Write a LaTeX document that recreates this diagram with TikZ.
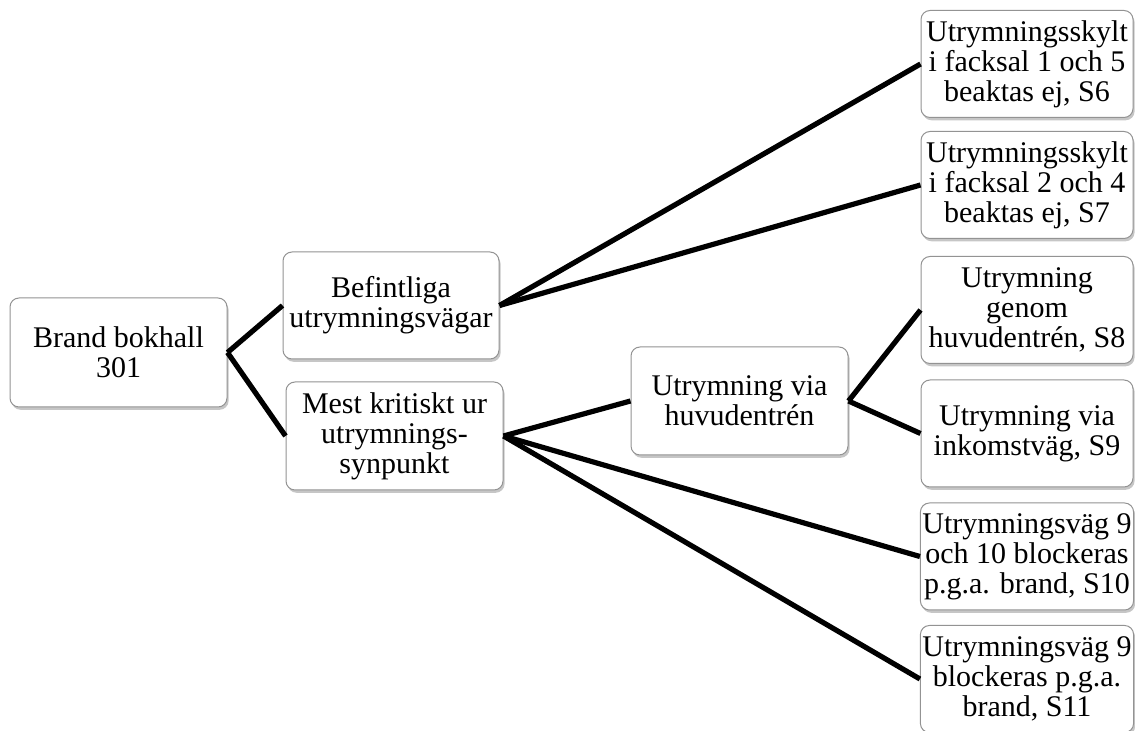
\documentclass[tikz,border=0pt]{standalone}
\usepackage{fontspec}
\setmainfont{Liberation Serif}
\usetikzlibrary{shadows}

\begin{document}
\begin{tikzpicture}[x=0.5pt,y=-0.5pt,
    box/.style={draw=gray!85,fill=white,rounded corners=4.5pt,line width=0.5pt,align=center,inner sep=1pt,
        font=\fontsize{15}{15}\selectfont,
        drop shadow={shadow xshift=0.8pt,shadow yshift=-1.4pt,opacity=0.45}},
    side/.style={box,minimum width=106pt,minimum height=53.5pt},
    link/.style={-,line width=2.6pt}]
    \useasboundingbox (0,0) rectangle (1135,731);

    \node[box,minimum width=108.5pt,minimum height=54.5pt](root) at (118.5,352.5){Brand bokhall\\301};
    \node[box,minimum width=108pt,minimum height=53.5pt](bef) at (391,305.5){Befintliga\\utrymningsvägar};
    \node[box,minimum width=108.5pt,minimum height=54pt](mest) at (394.5,436){Mest kritiskt ur\\utrymnings-\\synpunkt};
    \node[box,minimum width=108.5pt,minimum height=54pt](huv) at (739.5,401){Utrymning via\\huvudentrén};

    \node[side](s6) at (1027,64){Utrymningsskylt\\i facksal 1 och 5\\beaktas ej, S6};
    \node[side](s7) at (1027,185){Utrymningsskylt\\i facksal 2 och 4\\beaktas ej, S7};
    \node[side](s8) at (1027,310){Utrymning\\genom\\huvudentrén, S8};
    \node[side](s9) at (1027,433.5){Utrymning via\\inkomstväg, S9};
    \node[side](s10) at (1027,556.5){Utrymningsväg 9\\och 10 blockeras\\p.g.a. brand, S10};
    \node[side](s11) at (1027,679){Utrymningsväg 9\\blockeras p.g.a.\\brand, S11};

    \draw[link](root.east)--(bef.west);
    \draw[link](root.east)--(mest.west);
    \draw[link](bef.east)--(s6.west);
    \draw[link](bef.east)--(s7.west);
    \draw[link](mest.east)--(huv.west);
    \draw[link](mest.east)--(s10.west);
    \draw[link](mest.east)--(s11.west);
    \draw[link](huv.east)--(s8.west);
    \draw[link](huv.east)--(s9.west);
\end{tikzpicture}
\end{document}
